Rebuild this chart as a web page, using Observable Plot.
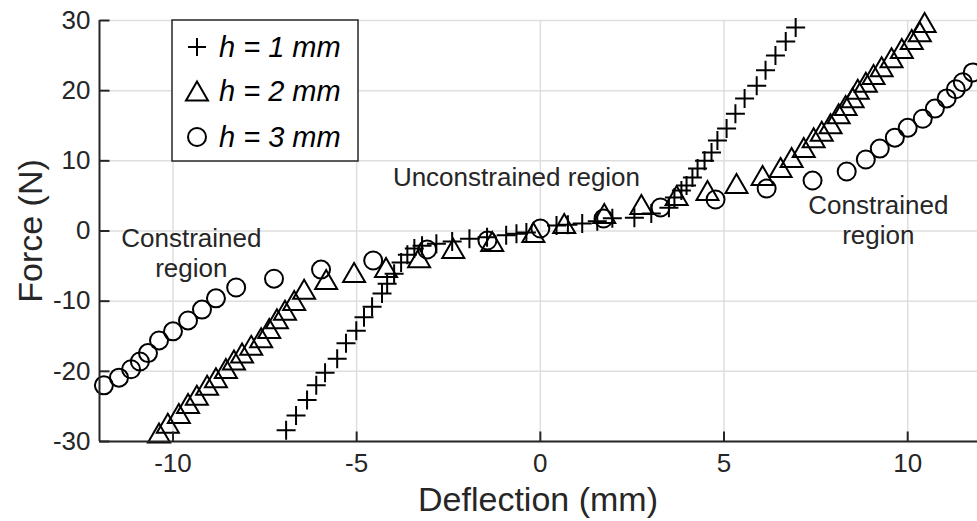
<!DOCTYPE html>
<html>
<head>
<meta charset="utf-8">
<script src="https://cdn.jsdelivr.net/npm/d3@7"></script>
<script src="https://cdn.jsdelivr.net/npm/@observablehq/plot@0.6"></script>
<style>
  html, body { margin: 0; padding: 0; background: #fff; overflow: hidden; }
  #chart { width: 977px; height: 521px; }
</style>
</head>
<body>
<div id="chart"></div>
<script>
// ---- data ----
const h1X = [-6.92,-6.65,-6.35,-6.1,-5.86,-5.53,-5.29,-5.01,-4.8,-4.58,-4.31,-4.17,-3.98,-3.79,-3.62,-3.43,-3.22,-2.83,-2.4,-1.93,-1.45,-0.93,-0.65,-0.38,0.44,0.75,1.14,1.55,1.96,2.56,3.02,3.5,3.65,3.84,3.98,4.14,4.28,4.47,4.66,4.82,5.07,5.31,5.56,5.89,6.13,6.4,6.68,6.95];
const h1Y = [-28.4,-26.3,-24.1,-22.0,-20.2,-18.2,-16.0,-14.2,-12.3,-10.8,-8.9,-7.5,-6.1,-4.5,-3.4,-2.5,-2.1,-1.8,-1.5,-1.1,-0.9,-0.6,-0.4,-0.2,0.8,0.9,1.07,1.4,1.8,1.9,2.5,3.3,4.77,5.77,6.48,7.62,8.9,10.0,11.2,12.9,14.6,16.7,18.9,20.7,22.9,25.0,27.0,29.0];

const h2X = [-10.38,-10.14,-9.84,-9.59,-9.35,-9.07,-8.83,-8.56,-8.34,-8.12,-7.87,-7.6,-7.38,-7.17,-6.95,-6.7,-6.43,-5.83,-5.07,-4.2,-3.3,-2.37,-1.31,-0.19,0.65,1.74,2.75,3.71,4.55,5.34,6.05,6.54,6.84,7.17,7.44,7.66,7.9,8.12,8.31,8.5,8.64,8.86,9.07,9.29,9.56,9.84,10.11,10.33,10.46];
const h2Y = [-28.8,-27.4,-26.0,-24.6,-23.4,-22.0,-20.9,-19.6,-18.4,-17.4,-16.3,-15.2,-13.9,-12.5,-11.3,-9.9,-8.3,-6.9,-5.9,-5.2,-3.8,-2.5,-1.5,-0.2,1.07,2.49,3.77,5.06,5.77,6.77,7.9,9.05,10.47,11.9,13.3,14.2,15.3,16.7,17.9,19.0,20.2,21.2,22.3,23.4,24.7,26.0,27.3,28.4,29.7];

const h3X = [-11.88,-11.47,-11.14,-10.9,-10.68,-10.38,-10.0,-9.59,-9.21,-8.83,-8.28,-7.25,-5.97,-4.55,-3.08,-1.44,0,1.72,3.27,4.77,6.16,7.41,8.34,8.86,9.24,9.65,10.0,10.41,10.74,11.06,11.31,11.5,11.77];
const h3Y = [-22.0,-20.9,-19.7,-18.6,-17.4,-15.6,-14.3,-12.75,-11.2,-9.6,-8.05,-6.8,-5.5,-4.2,-2.64,-1.35,0.36,1.78,3.35,4.49,6.05,7.19,8.48,10.19,11.75,13.3,14.7,16.0,17.45,18.9,20.2,21.2,22.6];

const seriesNames = ["h = 1 mm", "h = 2 mm", "h = 3 mm"];

const xTicks = [-10, -5, 0, 5, 10];
const xTickLabels = ["-10", "-5", "0", "5", "10"];
const yTicks = [-30, -20, -10, 0, 10, 20, 30];
const yTickLabels = ["-30", "-20", "-10", "0", "10", "20", "30"];

const annText = ["Unconstrained region", "Constrained\nregion", "Constrained\nregion"];
const annX = [-0.65, -9.5, 9.2];
const annY = [7.8, -3.0, 1.7];

const xLabel = "Deflection (mm)";
const yLabel = "Force (N)";

// ---- marker shapes (MATLAB-like outlines) ----
const plusSym = { draw(ctx, size) { const r = Math.sqrt(size / Math.PI);
  ctx.moveTo(-r, 0); ctx.lineTo(r, 0); ctx.moveTo(0, -r); ctx.lineTo(0, r); } };
const triSym = { draw(ctx, size) { const r = Math.sqrt(size / Math.PI);
  const w = r * 1.1, h = r * 0.95;
  ctx.moveTo(0, -h); ctx.lineTo(w, h); ctx.lineTo(-w, h); ctx.closePath(); } };
const circSym = { draw(ctx, size) { const r = Math.sqrt(size / Math.PI);
  ctx.moveTo(r, 0); ctx.arc(0, 0, r, 0, 2 * Math.PI); } };
// inward axis ticks (10 px)
const hTick = { draw(ctx) { ctx.moveTo(0, 0); ctx.lineTo(10, 0); } };
const vTick = { draw(ctx) { ctx.moveTo(0, 0); ctx.lineTo(0, -10); } };

const h1 = h1X.map((x, i) => ({x, y: h1Y[i]}));
const h2 = h2X.map((x, i) => ({x, y: h2Y[i]}));
const h3 = h3X.map((x, i) => ({x, y: h3Y[i]}));

const ink = "#262626";
const font = "'Liberation Sans', Arial, Helvetica, sans-serif";

const chart = Plot.plot({
  width: 977,
  height: 521,
  marginLeft: 99,
  marginRight: 0,
  marginTop: 20,
  marginBottom: 80,
  style: { fontFamily: font, fontSize: "26px", color: ink, background: "#fff", overflow: "visible" },
  x: { domain: [-12, 11.9] },
  y: { domain: [-30, 30] },
  marks: [
    Plot.gridX(xTicks, { stroke: "#dedede", strokeOpacity: 1, strokeWidth: 1.5 }),
    Plot.gridY(yTicks, { stroke: "#dedede", strokeOpacity: 1, strokeWidth: 1.5 }),
    Plot.dot(h3, { x: "x", y: "y", symbol: circSym, r: 9, stroke: "#000", strokeWidth: 2, fill: "none" }),
    Plot.dot(h2, { x: "x", y: "y", symbol: triSym, r: 10, stroke: "#000", strokeWidth: 2, fill: "none" }),
    Plot.dot(h1, { x: "x", y: "y", symbol: plusSym, r: 9.5, stroke: "#000", strokeWidth: 2, fill: "none" }),
    Plot.text(annText, { x: annX, y: annY, text: d => d, fontSize: 26, fill: ink, lineHeight: 1.18, textAnchor: "middle", lineAnchor: "middle" }),
    Plot.ruleX([-12], { stroke: ink, strokeWidth: 2 }),
    Plot.ruleY([-30], { stroke: ink, strokeWidth: 2 }),
    Plot.dot(yTicks, { y: d => d, frameAnchor: "left", symbol: hTick, stroke: ink, strokeWidth: 2, fill: "none" }),
    Plot.dot(xTicks, { x: d => d, frameAnchor: "bottom", symbol: vTick, stroke: ink, strokeWidth: 2, fill: "none" }),
    Plot.axisX(xTicks, { anchor: "bottom", tickSize: 0, tickPadding: 12, fill: ink,
      tickFormat: (d) => xTickLabels[xTicks.indexOf(d)], fontSize: 26, label: null }),
    Plot.axisY(yTicks, { anchor: "left", tickSize: 0, tickPadding: 9, fill: ink,
      tickFormat: (d) => yTickLabels[yTicks.indexOf(d)], fontSize: 26, label: null })
  ]
});

document.getElementById("chart").appendChild(chart);

// axis titles and legend drawn into the same SVG
const svg = d3.select(chart);
svg.append("text").text(xLabel)
  .attr("x", 538).attr("y", 511)
  .attr("text-anchor", "middle")
  .attr("font-family", font).attr("font-size", 34).attr("fill", ink);
svg.append("text").text(yLabel)
  .attr("transform", "translate(42,231) rotate(-90)")
  .attr("text-anchor", "middle")
  .attr("font-family", font).attr("font-size", 34).attr("fill", ink);

const lg = svg.append("g");
lg.append("rect").attr("x", 172).attr("y", 20).attr("width", 186).attr("height", 141)
  .attr("fill", "#fff").attr("stroke", ink).attr("stroke-width", 1.5);
const syms = [plusSym, triSym, circSym];
const rows = [47, 91, 137];
seriesNames.forEach((name, i) => {
  const p = d3.path();
  const rr = i === 1 ? 10 : 9;
  syms[i].draw(p, Math.PI * rr * rr);
  lg.append("path").attr("d", p.toString())
    .attr("transform", `translate(197,${rows[i]})`)
    .attr("fill", "none").attr("stroke", "#000").attr("stroke-width", 2);
  lg.append("text").text(name)
    .attr("x", 219).attr("y", rows[i]).attr("dy", "0.36em")
    .attr("text-anchor", "start")
    .attr("font-family", font).attr("font-style", "italic").attr("font-size", 29).attr("fill", "#000");
});
</script>
</body>
</html>
